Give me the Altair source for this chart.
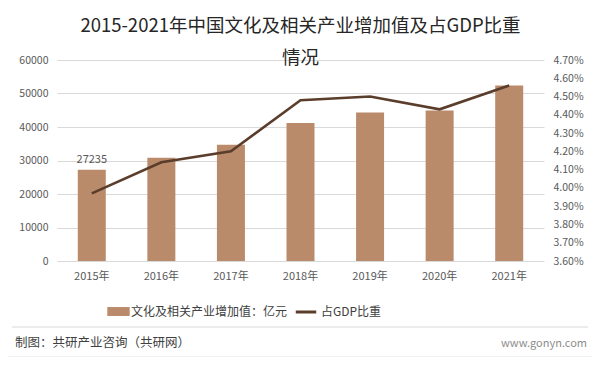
import altair as alt
import pandas as pd

years = ["2015年", "2016年", "2017年", "2018年", "2019年", "2020年", "2021年"]
values = [27235, 30785, 34722, 41171, 44363, 44945, 52385]
shares = [0.0397, 0.0414, 0.0420, 0.0448, 0.0450, 0.0443, 0.0456]
bar_name = "文化及相关产业增加值：亿元"
line_name = "占GDP比重"
title_lines = ["2015-2021年中国文化及相关产业增加值及占GDP比重", "情况"]
left_ticks = [0, 10000, 20000, 30000, 40000, 50000, 60000]
right_ticks = [0.036, 0.037, 0.038, 0.039, 0.040, 0.041, 0.042, 0.043, 0.044, 0.045, 0.046, 0.047]

df = pd.DataFrame({"year": years, "value": values, "share": shares})
df["label"] = [str(values[0])] + [""] * (len(values) - 1)

FONT = "Noto Sans CJK SC"
BAR = "#BA8B6B"
LINE = "#5A3D2B"
GRID = "#D9D9D9"
TXT = "#595959"

W, H = 487, 201

xaxis = alt.Axis(labelAngle=0, domain=False, ticks=False, labelPadding=9,
                 labelColor=TXT, labelFontSize=11, labelFont=FONT)
xscale = alt.Scale(paddingInner=0.6, paddingOuter=0.3)
yaxis = alt.Axis(values=left_ticks, format="d", labelOverlap=False, domain=False,
                 ticks=False, labelPadding=9, tickCount=7,
                 gridColor=GRID, labelColor=TXT, labelFontSize=10.5, labelFont=FONT)
yscale = alt.Scale(domain=[0, 60000])

bars = alt.Chart(df).mark_bar(size=28).encode(
    x=alt.X("year:N", sort=years, title=None, scale=xscale, axis=xaxis),
    y=alt.Y("value:Q", title=None, scale=yscale, axis=yaxis),
    fill=alt.Fill("name:N", scale=alt.Scale(domain=[bar_name], range=[BAR]),
                  legend=alt.Legend(title=None, orient="none", legendX=50, legendY=240,
                                    symbolType="M-1,-0.4H1V0.4H-1Z",
                                    symbolSize=500, symbolStrokeWidth=0, labelFontSize=12,
                                    labelLimit=0, labelColor="#404040", labelFont=FONT,
                                    labelOffset=1))
).transform_calculate(name=f"'{bar_name}'")

labels = alt.Chart(df).mark_text(dy=-10, fontSize=11, color=TXT, font=FONT).encode(
    x=alt.X("year:N", sort=years, title=None, scale=xscale, axis=xaxis),
    y=alt.Y("value:Q", title=None, scale=yscale, axis=yaxis),
    text="label:N"
)

left = alt.layer(bars, labels)

line = alt.Chart(df).mark_line(strokeWidth=2.6).encode(
    x=alt.X("year:N", sort=years, title=None, scale=xscale, axis=xaxis),
    y=alt.Y("share:Q", title=None,
            scale=alt.Scale(domain=[0.036, 0.047]),
            axis=alt.Axis(values=right_ticks, format=".2%", orient="right", domain=False,
                          labelOverlap=False, ticks=False, grid=False, labelPadding=9,
                          labelColor=TXT, labelFontSize=10.5, labelFont=FONT)),
    stroke=alt.Stroke("name:N", scale=alt.Scale(domain=[line_name], range=[LINE]),
                      legend=alt.Legend(title=None, orient="none", legendX=237, legendY=240,
                                        symbolType="stroke",
                                        symbolSize=420, symbolStrokeWidth=3, labelFontSize=12,
                                        labelLimit=0, labelColor="#404040", labelFont=FONT,
                                        labelOffset=3))
).transform_calculate(name=f"'{line_name}'")

one = "datum.year == '2015年'"

title1 = alt.Chart(df).mark_text(align="center", baseline="middle", fontSize=18.5,
                                 color="#262626", font=FONT).encode(
    x=alt.value(W / 2), y=alt.value(-34), text=alt.value(title_lines[0])
).transform_filter(one)

title2 = alt.Chart(df).mark_text(align="center", baseline="middle", fontSize=18.5,
                                 color="#262626", font=FONT).encode(
    x=alt.value(W / 2), y=alt.value(-2), text=alt.value(title_lines[1])
).transform_filter(one)

footer = alt.Chart(df).mark_text(align="left", baseline="middle", fontSize=12.5,
                                 color="#404040", font=FONT).encode(
    x=alt.value(-42), y=alt.value(283), text=alt.value("制图：共研产业咨询（共研网）")
).transform_filter(one)

site = alt.Chart(df).mark_text(align="right", baseline="middle", fontSize=11,
                               color="#8C8C8C", font=FONT).encode(
    x=alt.value(530), y=alt.value(284), text=alt.value("www.gonyn.com")
).transform_filter(one)

sep = alt.Chart(df).mark_rule(color=GRID, strokeWidth=1).encode(
    x=alt.value(-45), x2=alt.value(531), y=alt.value(267)
).transform_filter(one)

border = alt.Chart(df).mark_rect(fill="transparent", stroke="#E0E0E0", strokeWidth=1).encode(
    x=alt.value(-52), x2=alt.value(536), y=alt.value(-55), y2=alt.value(297)
).transform_filter(one)

chart = alt.layer(left, line, title1, title2, footer, site, sep, border).resolve_scale(
    y="independent", fill="independent", stroke="independent"
).properties(
    width=W, height=H,
    autosize=alt.AutoSizeParams(type="none"),
    padding={"left": 49, "top": 52, "right": 48, "bottom": 96},
).configure_view(stroke=None)

chart.save("out.html", embed_options={"renderer": "svg", "actions": False})
